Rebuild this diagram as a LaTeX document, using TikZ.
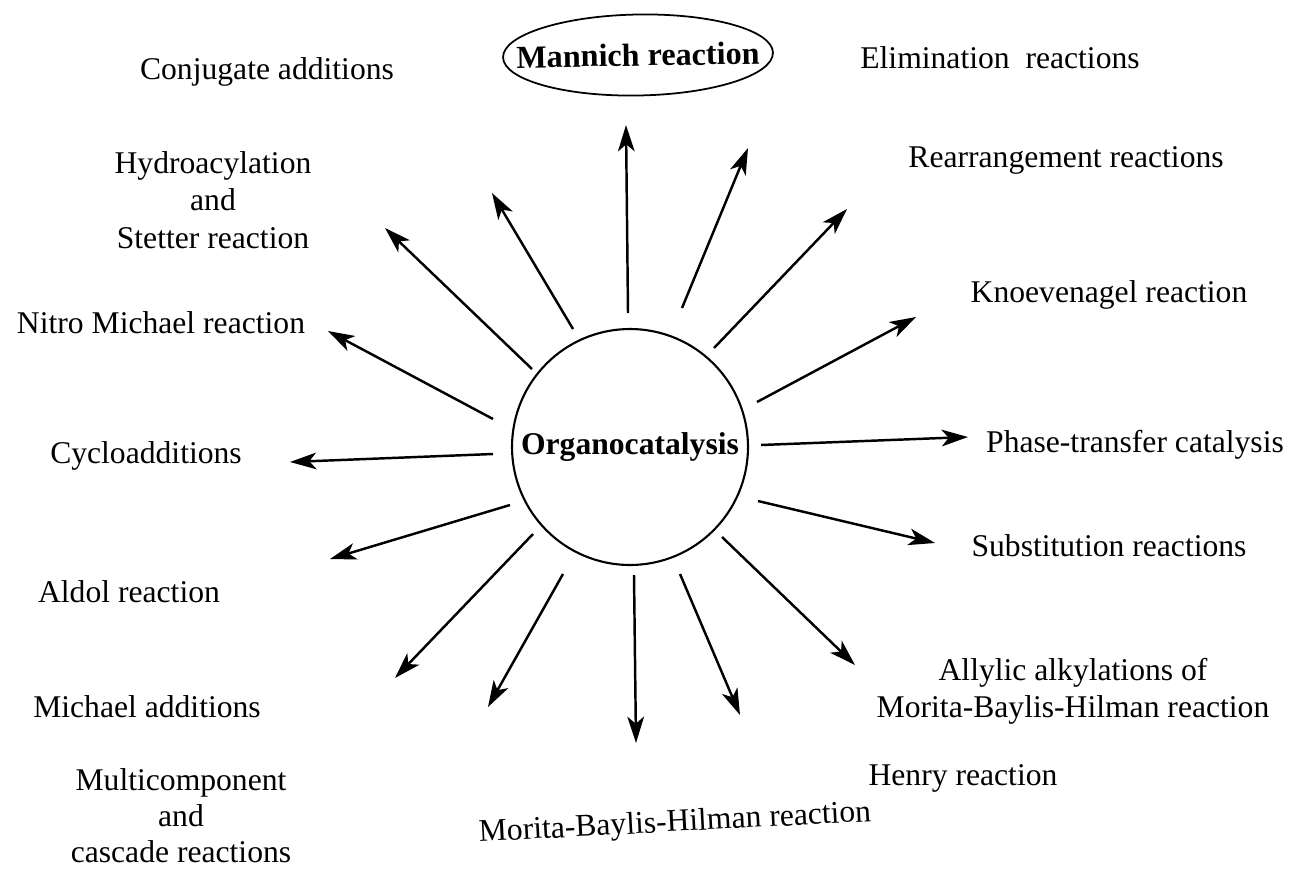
\documentclass[tikz,border=0pt]{standalone}
\usepackage{fontspec}
\setmainfont{Liberation Serif}
\usetikzlibrary{arrows.meta,shapes.geometric}
\begin{document}
\begin{tikzpicture}[x=0.02cm,y=-0.02cm,
  lbl/.style={font=\fontsize{18}{21}\selectfont, align=center, inner sep=0pt},
  arr/.style={-{Stealth[length=15pt,width=9.5pt,inset=4pt]}, line width=1.4pt},
]
\useasboundingbox (0,0) rectangle (1294,869);

% centre
\node[circle, draw, line width=1.2pt, minimum size=4.72cm, inner sep=0pt,
      font=\fontsize{18}{21}\selectfont\bfseries] (org) at (630,447) {Organocatalysis};

% labels
\node[ellipse, draw, line width=1pt, minimum width=5.4cm, minimum height=1.62cm, inner sep=0pt,
      font=\fontsize{18.3}{21}\selectfont\bfseries, rotate=1] (mann) at (638,55) {\makebox[0pt]{Mannich reaction}};
\node[lbl] (elim) at (1000,58) {Elimination\ \ reactions};
\node[lbl] (conj) at (267,72) {Conjugate additions};
\node[lbl] (rear) at (1066,160) {Rearrangement reactions};
\node[lbl, font=\fontsize{18}{21.5}\selectfont] (hydro) at (213,200) {Hydroacylation\\and\\Stetter reaction};
\node[lbl] (knoe) at (1109,295) {Knoevenagel reaction};
\node[lbl] (nitro) at (161,323) {Nitro Michael reaction};
\node[lbl] (cyclo) at (146,456) {Cycloadditions};
\node[lbl] (ptc) at (1135,445) {Phase-transfer catalysis};
\node[lbl] (subst) at (1109,546) {Substitution reactions};
\node[lbl] (aldol) at (129,592) {Aldol reaction};
\node[lbl] (allyl) at (1073,691) {Allylic alkylations of\\Morita-Baylis-Hilman reaction};
\node[lbl] (mich) at (147,707) {Michael additions};
\node[lbl] (henry) at (963,778) {Henry reaction};
\node[lbl, font=\fontsize{18}{20.5}\selectfont] (multi) at (181,816) {Multicomponent\\and\\cascade reactions};
\node[lbl, rotate=3] (mbh) at (675,824) {Morita-Baylis-Hilman reaction};

% arrow ends
\coordinate (sN)   at (628,313); \coordinate (tN)   at (626,125);
\coordinate (sNNE) at (682,308); \coordinate (tNNE) at (748,148);
\coordinate (sNE)  at (714,348); \coordinate (tNE)  at (847,209);
\coordinate (sENE) at (757,402); \coordinate (tENE) at (916,317);
\coordinate (sE)   at (761,445); \coordinate (tE)   at (968,437);
\coordinate (sESE) at (758,501); \coordinate (tESE) at (935,543);
\coordinate (sSE)  at (722,537); \coordinate (tSE)  at (855,665);
\coordinate (sSSE) at (680,574); \coordinate (tSSE) at (740,715);
\coordinate (sS)   at (634,575); \coordinate (tS)   at (636,743);
\coordinate (sSSW) at (563,574); \coordinate (tSSW) at (488,707);
\coordinate (sSW)  at (533,534); \coordinate (tSW)  at (395,678);
\coordinate (sWSW) at (510,505); \coordinate (tWSW) at (330,559);
\coordinate (sW)   at (493,454); \coordinate (tW)   at (290,462);
\coordinate (sWNW) at (493,419); \coordinate (tWNW) at (328,331);
\coordinate (sNW)  at (532,369); \coordinate (tNW)  at (385,228);
\coordinate (sNNW) at (573,329); \coordinate (tNNW) at (492,193);

\foreach \d in {N,NNE,NE,ENE,E,ESE,SE,SSE,S,SSW,SW,WSW,W,WNW,NW,NNW}
  \draw[arr] (s\d) -- (t\d);
\end{tikzpicture}
\end{document}
